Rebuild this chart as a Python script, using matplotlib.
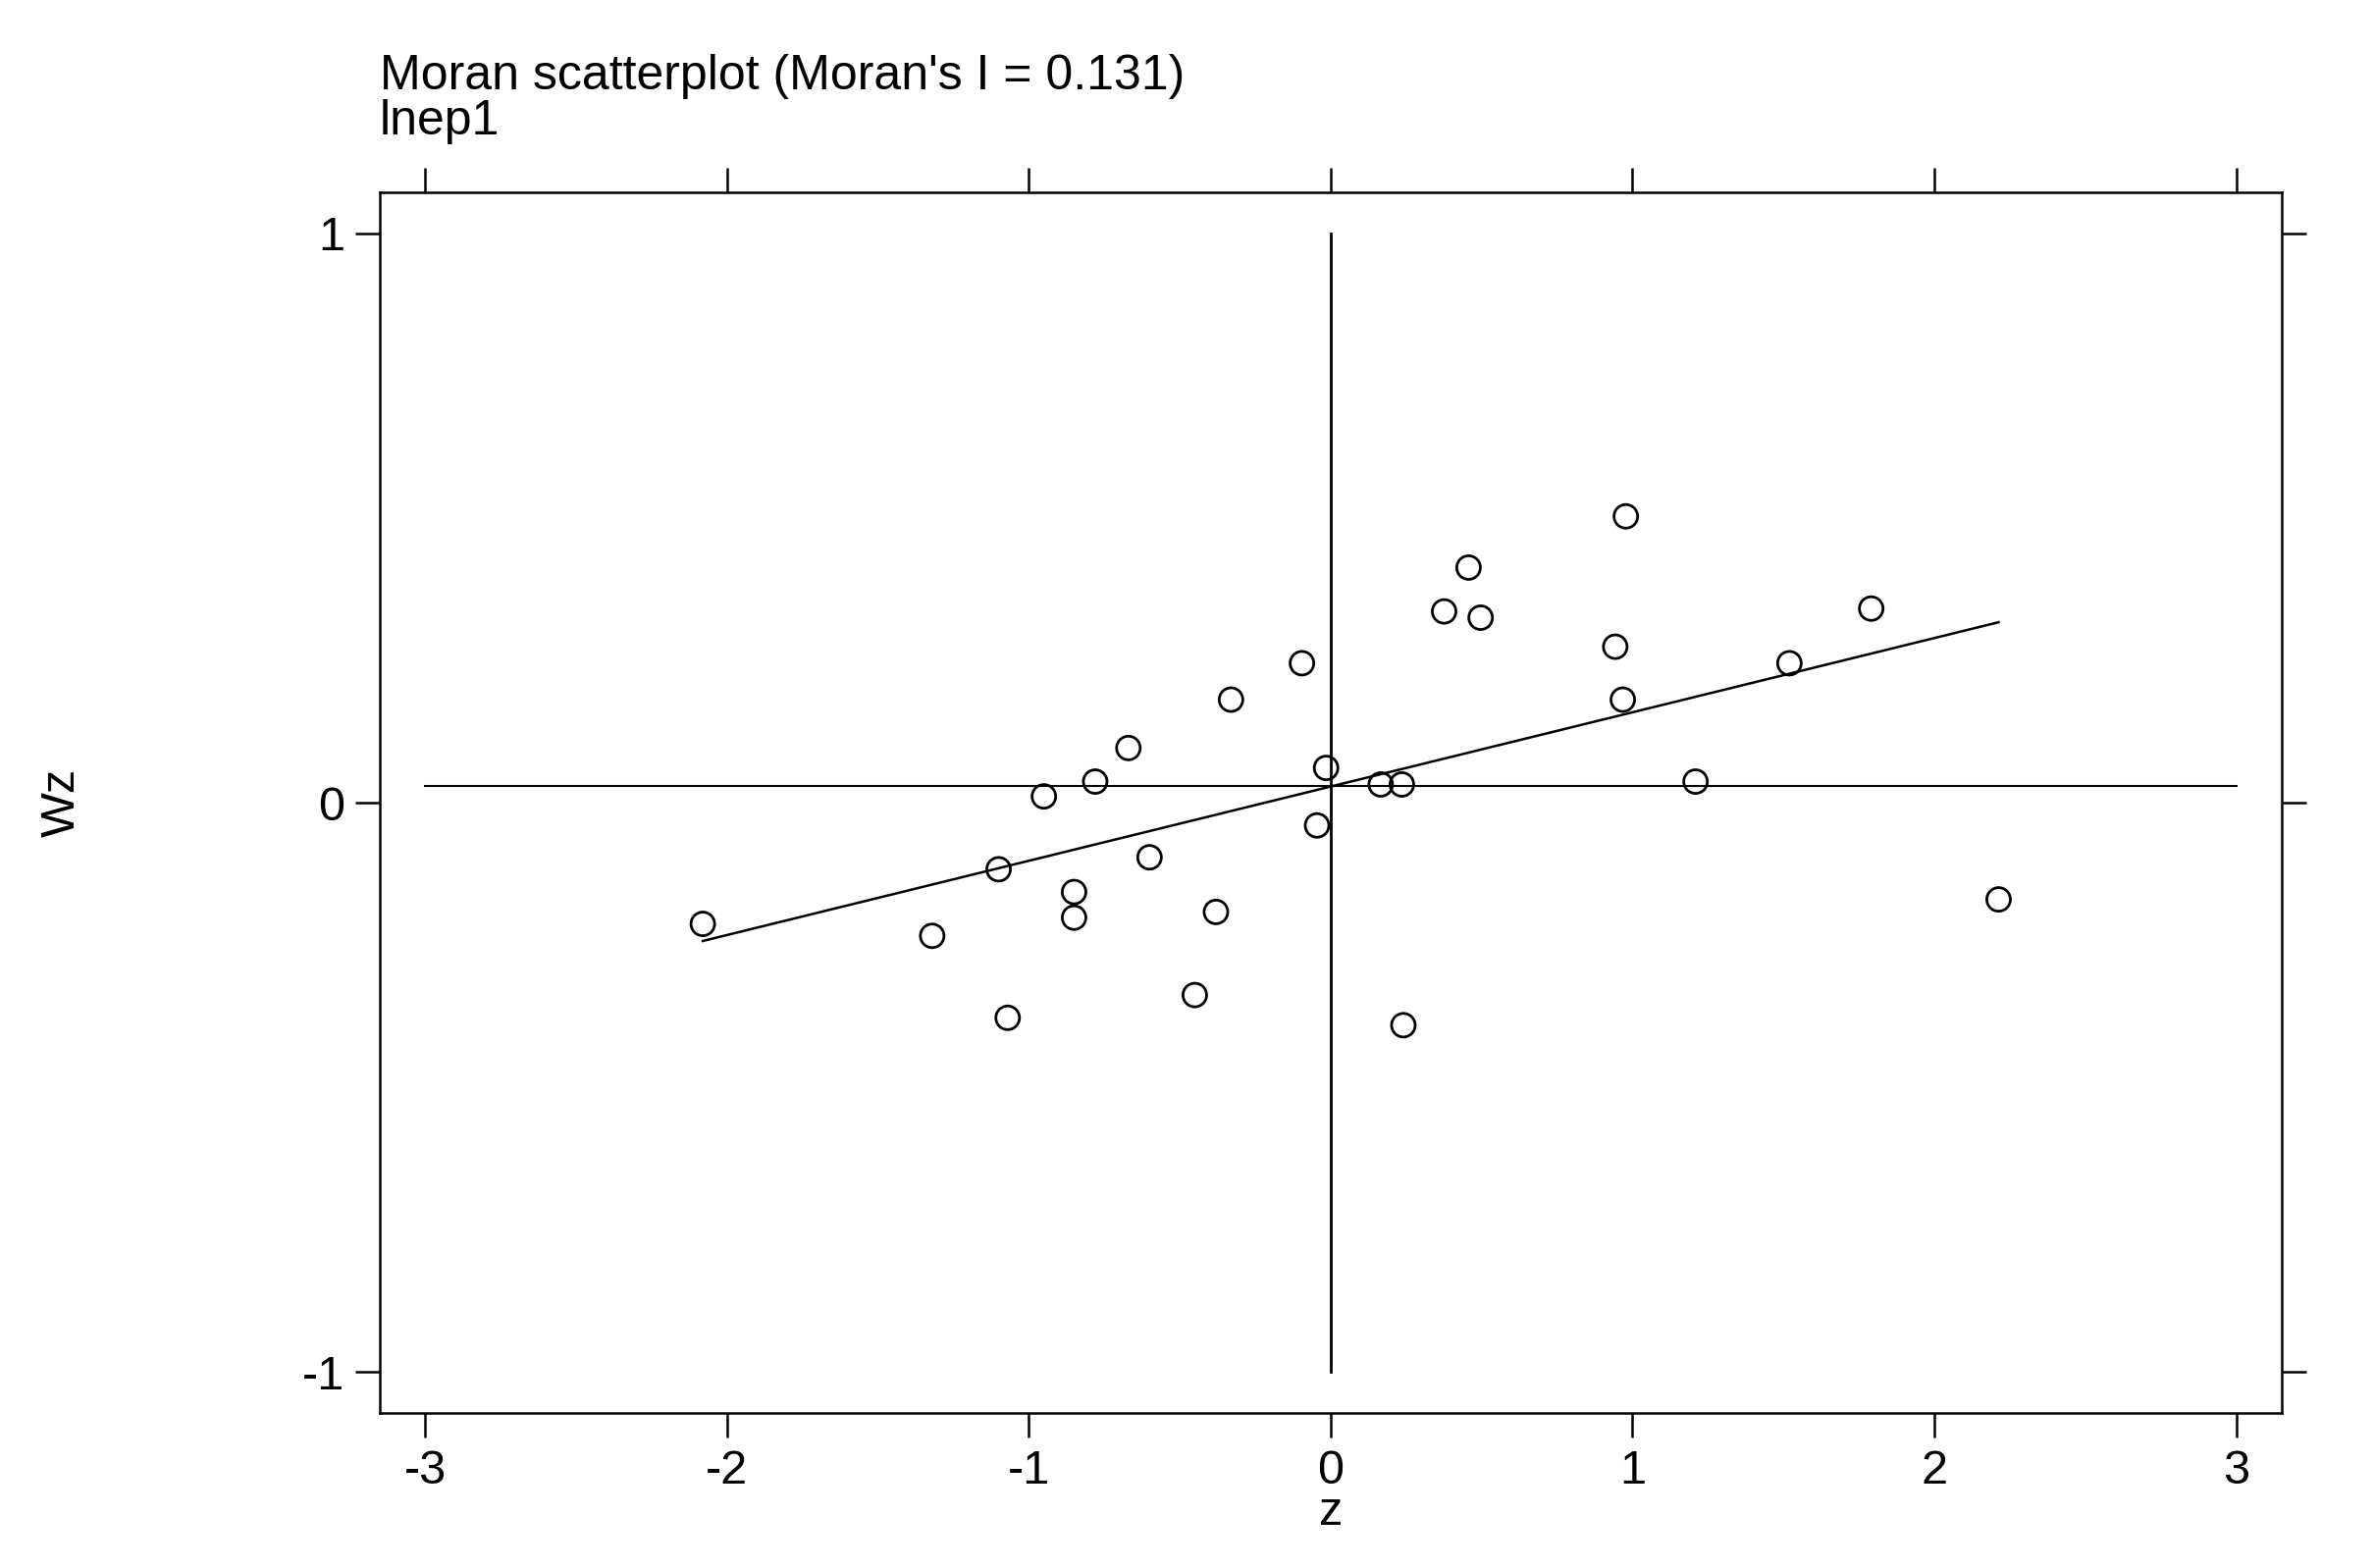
import numpy as np
import matplotlib
matplotlib.use("Agg")
import matplotlib.pyplot as plt

z = [-2.08,-1.32,-1.10,-1.07,-0.95,-0.85,-0.85,-0.78,-0.67,-0.60,-0.45,-0.38,-0.33,-0.095,-0.045,-0.015,0.166,0.236,0.241,0.376,0.457,0.497,0.943,0.968,0.978,1.209,1.520,1.791,2.213]
wz = [-0.213,-0.234,-0.117,-0.378,0.011,-0.157,-0.202,0.037,0.096,-0.096,-0.338,-0.192,0.181,0.245,-0.040,0.061,0.032,0.032,-0.391,0.336,0.413,0.325,0.274,0.181,0.503,0.037,0.245,0.341,-0.170]
hline_y = 0.03
xticks = [-3,-2,-1,0,1,2,3]
yticks = [-1,0,1]

plt.rcParams['font.family'] = ['Liberation Sans', 'DejaVu Sans']
plt.rcParams['axes.unicode_minus'] = False
fig = plt.figure(figsize=(24.19,15.98), dpi=100)
ax = fig.add_axes([0.160, 0.0986, 0.801, 0.779])
x = np.array(z); y = np.array(wz)
b, a = np.polyfit(x, y, 1)
xs = np.array([x.min(), x.max()])
ax.plot(xs, a + b*xs, color='black', lw=1.8)
ax.plot([-3,3],[hline_y,hline_y], color='black', lw=1.5)
ax.plot([0,0],[-1,1], color='black', lw=2)
ax.scatter(x, y, s=300, facecolors='none', edgecolors='black', linewidths=2)
ax.set_xlim(-3.15,3.15); ax.set_ylim(-1.073,1.073)
ax.set_xticks(xticks); ax.set_yticks(yticks)
ax.tick_params(axis='both', which='both', direction='out', length=18, width=1.8, labelsize=35,
               top=True, right=True, labeltop=False, labelright=False, pad=8)
for s in ax.spines.values():
    s.set_linewidth(1.8)
ax.set_xlabel('z', fontsize=35, labelpad=-2)
ax.set_ylabel('Wz', fontsize=35, labelpad=160)
ax.set_title("Moran scatterplot (Moran's I = 0.131)\nlnep1", loc='left', fontsize=36, pad=42, linespacing=1.0)
fig.savefig('out.png', dpi=100)
